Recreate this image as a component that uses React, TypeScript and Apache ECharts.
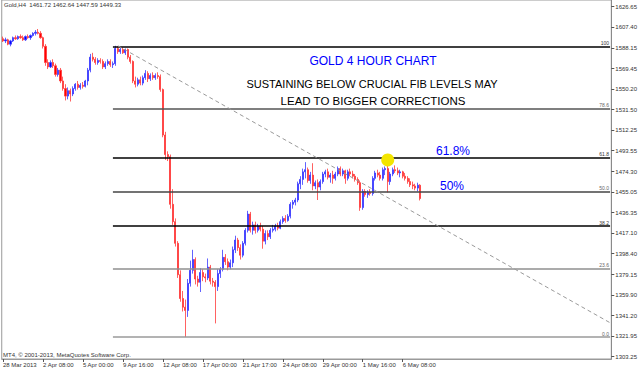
import React, { useEffect, useRef } from 'react';
import * as echarts from 'echarts';

// ---- candle data (Gold H4) ----
const opens = [
  1597,1595,1596,1592,1595,1598,1597,1599,1598,1596,
  1599,1598,1600,1602,1603,1602,1598,1590,1575,1571,
  1575,1572,1564,1568,1558,1551,1544,1549,1546,1551,
  1555,1552,1554,1553,1558,1568,1580,1578,1575,1577,
  1576,1571,1574,1576,1573,1574,1588,1585,1587,1584,
  1587,1580,1576,1558,1555,1559,1556,1561,1565,1560,
  1563,1561,1563,1562,1550,1508,1490,1488,1444,1428,
  1408,1379,1357,1349,1346,1371,1383,1393,1375,1372,
  1381,1377,1376,1386,1373,1372,1368,1380,1384,1395,
  1391,1386,1390,1402,1411,1404,1397,1408,1420,1435,
  1420,1425,1420,1424,1421,1410,1417,1414,1420,1421,
  1424,1422,1428,1431,1429,1433,1444,1446,1448,1463,
  1467,1474,1476,1466,1471,1461,1464,1460,1465,1472,
  1474,1469,1471,1468,1472,1477,1472,1475,1468,1474,
  1472,1470,1467,1464,1441,1456,1453,1455,1454,1468,
  1473,1471,1468,1476,1477,1465,1472,1476,1475,1473,
  1474,1470,1468,1465,1462,1461,1459,1461.72
];
const highs = [
  1599,1598,1597,1596,1599,1600,1600,1601,1600,1600,
  1601,1601,1603,1605,1606,1604,1599,1592,1578,1577,
  1578,1574,1570,1570,1562,1555,1552,1551,1553,1556,
  1558,1556,1557,1559,1570,1583,1584,1580,1579,1579,
  1578,1576,1578,1578,1576,1590.5,1590,1589,1589,1588,
  1588,1582,1577,1562,1561,1562,1563,1568,1567,1565,
  1566,1565,1566,1564,1551,1511,1493,1490,1458,1431,
  1410,1383,1364,1356,1375,1392,1402,1395,1378,1385,
  1384,1380,1394,1388,1376,1374,1384,1386,1402,1398,
  1394,1393,1405,1415,1413,1407,1410,1422,1438,1437,
  1428,1428,1426,1427,1424,1420,1420,1422,1425,1426,
  1427,1430,1433,1434,1435,1446,1448,1450,1465,1470,
  1477,1483,1478,1474,1482,1466,1467,1467,1474,1476,
  1477,1473,1475,1474,1479,1479,1477,1476,1476,1477,
  1475,1472,1469,1466,1458,1458,1457,1458,1470,1475,
  1476,1474,1478,1479,1485,1474,1478,1480,1478,1476,
  1475,1473,1470,1468,1465,1463,1464,1462.64
];
const lows = [
  1594,1593,1591,1590,1594,1596,1596,1597,1595,1595,
  1597,1596,1599,1600,1601,1597,1588,1572,1569,1570,
  1570,1562,1562,1556,1549,1540,1541,1539,1544,1549,
  1550,1550,1551,1552,1554,1566,1576,1573,1573,1574,
  1569,1569,1572,1571,1570,1572,1583,1583,1583,1582,
  1578,1574,1556,1552,1553,1554,1554,1559,1557,1558,
  1559,1559,1560,1548,1506,1485,1484,1440,1425,1405,
  1376,1354,1345,1321.35,1340,1368,1380,1370,1368,1363,
  1373,1372,1374,1370,1368,1334,1364,1376,1382,1388,
  1383,1384,1386,1399,1401,1393,1395,1406,1418,1418,
  1416,1417,1418,1419,1403,1407,1411,1412,1418,1419,
  1420,1421,1426,1427,1428,1431,1440,1443,1446,1458,
  1462,1468,1464,1463,1457,1458,1448,1457,1463,1469,
  1467,1464,1463,1466,1470,1470,1470,1463,1466,1470,
  1468,1465,1462,1438,1439,1451,1450,1452,1452,1466,
  1469,1466,1466,1471,1455,1462,1470,1473,1471,1469,
  1468,1466,1463,1460,1458,1457,1456,1447.59
];
const closes = [
  1595,1596,1592,1595,1598,1597,1599,1598,1596,1599,
  1598,1600,1602,1603,1602,1598,1590,1575,1571,1575,
  1572,1564,1568,1558,1551,1544,1549,1546,1551,1555,
  1552,1554,1553,1558,1568,1580,1578,1575,1577,1576,
  1571,1574,1576,1573,1574,1588,1585,1587,1584,1587,
  1580,1576,1558,1555,1559,1556,1561,1565,1560,1563,
  1561,1563,1562,1550,1508,1490,1488,1444,1428,1408,
  1379,1357,1349,1346,1371,1383,1393,1375,1372,1381,
  1377,1376,1386,1373,1372,1368,1380,1384,1395,1391,
  1386,1390,1402,1411,1404,1397,1408,1420,1435,1420,
  1425,1420,1424,1421,1410,1417,1414,1420,1421,1424,
  1422,1428,1431,1429,1433,1444,1446,1448,1463,1467,
  1474,1476,1466,1471,1461,1464,1460,1465,1472,1474,
  1469,1471,1468,1472,1477,1472,1475,1468,1474,1472,
  1470,1467,1464,1441,1456,1453,1455,1454,1468,1473,
  1471,1468,1476,1477,1465,1472,1476,1475,1473,1474,
  1470,1468,1465,1462,1461,1459,1461.72,1449.33
];

// ---- axes ----
const totalSlots = 244; // bars plus empty chart shift on the right
const xTickIndex = [0, 16, 32, 48, 64, 80, 96, 112, 128, 144, 160];
const xTickLabels = [
  '28 Mar 2013', '2 Apr 08:00', '5 Apr 00:00', '9 Apr 16:00', '12 Apr 08:00',
  '17 Apr 00:00', '21 Apr 17:00', '24 Apr 08:00', '29 Apr 00:00', '1 May 16:00', '6 May 08:00'
];
const yTicks = [
  1303.25, 1321.95, 1341.20, 1359.90, 1379.15, 1398.40, 1417.10, 1436.35, 1455.05,
  1474.30, 1493.55, 1512.25, 1531.50, 1550.20, 1569.45, 1588.15, 1607.40, 1626.65
];
const yMin = 1301.1;
const yMax = 1632.8;

// ---- fibonacci retracement ----
const fibLow = 1321.35;
const fibHigh = 1590;
const fibRatios = [0, 23.6, 38.2, 50, 61.8, 78.6, 100];
const fibLabels = ['0.0', '23.6', '38.2', '50.0', '61.8', '78.6', '100'];
const fibColors = ['#9a9a9a', '#8f8f8f', '#000000', '#444444', '#000000', '#555555', '#000000'];
const fibStartIdx = 44;

// ---- trend line / markers ----
const trendStartIdx = 46;
const trendStartPrice = 1590.5;
const trendEndIdx = 243;
const trendEndPrice = 1334.6;
const circleIdx = 154;
const circlePrice = 1485;

const FONT = '"Liberation Sans", Arial, sans-serif';

export default function App() {
  const ref = useRef<HTMLDivElement>(null);

  useEffect(() => {
    if (!ref.current) return;
    const chart = echarts.init(ref.current, undefined, { renderer: 'svg' });
    const categories = Array.from({ length: totalSlots }, (_, i) => 'b' + i);
    const tickSet = new Set(xTickIndex);
    const labelMap: Record<number, string> = {};
    xTickIndex.forEach((idx, k) => { labelMap[idx] = xTickLabels[k]; });

    const candleData = opens.map((o, i) => [o, closes[i], lows[i], highs[i]]);
    const last = opens.length - 1;

    const fibLines = fibRatios.map((r, k) => {
      const level = fibLow + (fibHigh - fibLow) * r / 100;
      return [
        {
          coord: [categories[fibStartIdx], level],
          lineStyle: { color: fibColors[k], width: 1.5, type: 'solid' },
          label: {
            show: true, position: 'insideEndTop', formatter: fibLabels[k],
            fontSize: 5, color: fibColors[k] === '#000000' ? '#333' : '#666',
            fontFamily: FONT, distance: 1
          }
        },
        { coord: [categories[totalSlots - 1], level] }
      ];
    });

    const trendLine = [
      {
        coord: [categories[trendStartIdx], trendStartPrice],
        lineStyle: { color: '#9a9a9a', width: 1, type: [4, 3] },
        label: { show: false }
      },
      { coord: [categories[trendEndIdx], trendEndPrice] }
    ];

    const option: any = {
      animation: false,
      backgroundColor: '#ffffff',
      grid: { left: 1, right: 28, top: 0, bottom: 13, show: true, borderColor: '#9a9a9a', borderWidth: 1 },
      xAxis: {
        type: 'category',
        data: categories,
        boundaryGap: true,
        axisLine: { show: true, lineStyle: { color: '#9a9a9a' } },
        axisTick: {
          show: true, alignWithLabel: true, length: 3,
          interval: (i: number) => tickSet.has(i),
          lineStyle: { color: '#555' }
        },
        axisLabel: {
          interval: (i: number) => tickSet.has(i),
          formatter: (_v: string, i: number) => labelMap[i] || '',
          align: 'left', margin: 3, fontSize: 6, color: '#333', fontFamily: FONT
        },
        splitLine: { show: false }
      },
      yAxis: {
        type: 'value',
        position: 'right',
        min: yMin,
        max: yMax,
        axisLine: { show: true, lineStyle: { color: '#8a8a8a' } },
        axisTick: { show: true, customValues: yTicks, length: 3, lineStyle: { color: '#555' } },
        axisLabel: {
          customValues: yTicks,
          formatter: (v: number) => v.toFixed(2),
          fontSize: 6, color: '#333', margin: 4, fontFamily: FONT
        },
        splitLine: { show: false }
      },
      series: [
        {
          type: 'candlestick',
          data: candleData,
          barWidth: 1.6,
          itemStyle: {
            color: '#0000ff', color0: '#ff0000',
            borderColor: '#3a3aff', borderColor0: '#ff3a3a', borderWidth: 0.8
          },
          markLine: {
            silent: true,
            symbol: ['none', 'none'],
            animation: false,
            data: [
              ...fibLines,
              trendLine,
              {
                yAxis: closes[last],
                lineStyle: { opacity: 0 },
                label: {
                  show: true, position: 'end', distance: 0,
                  formatter: closes[last].toFixed(2),
                  backgroundColor: '#000', color: '#fff', padding: [2, 3, 1, 3],
                  fontSize: 6, fontFamily: FONT
                }
              }
            ]
          },
          markPoint: {
            silent: true,
            animation: false,
            symbol: 'circle',
            symbolSize: 13,
            itemStyle: { color: '#f3e500' },
            label: { show: false },
            data: [{ coord: [categories[circleIdx], circlePrice] }]
          }
        }
      ],
      graphic: [
        {
          type: 'text', x: 4, y: 2,
          style: {
            text: `Gold,H4  ${opens[last].toFixed(2)} ${highs[last].toFixed(2)} ${lows[last].toFixed(2)} ${closes[last].toFixed(2)}`,
            fill: '#333', fontSize: 6, fontFamily: FONT, verticalAlign: 'top'
          }
        },
        {
          type: 'text', x: 3, y: 352,
          style: {
            text: 'MT4, © 2001-2013, MetaQuotes Software Corp.',
            fill: '#333', fontSize: 6, fontFamily: FONT, verticalAlign: 'top'
          }
        },
        {
          type: 'text', x: 373, y: 61,
          style: {
            text: 'GOLD 4 HOUR CHART', fill: '#0000ff', fontSize: 12, fontFamily: FONT,
            align: 'center', verticalAlign: 'middle'
          }
        },
        {
          type: 'text', x: 372, y: 84,
          style: {
            text: 'SUSTAINING BELOW CRUCIAL FIB LEVELS MAY', fill: '#000', fontSize: 11, fontFamily: FONT,
            align: 'center', verticalAlign: 'middle'
          }
        },
        {
          type: 'text', x: 373, y: 101,
          style: {
            text: 'LEAD TO BIGGER CORRECTIONS', fill: '#000', fontSize: 11.5, fontFamily: FONT,
            align: 'center', verticalAlign: 'middle'
          }
        },
        {
          type: 'text', x: 453, y: 151,
          style: {
            text: '61.8%', fill: '#0000ff', fontSize: 12, fontFamily: FONT,
            align: 'center', verticalAlign: 'middle'
          }
        },
        {
          type: 'text', x: 452, y: 186,
          style: {
            text: '50%', fill: '#0000ff', fontSize: 12, fontFamily: FONT,
            align: 'center', verticalAlign: 'middle'
          }
        }
      ]
    };

    chart.setOption(option);
    return () => chart.dispose();
  }, []);

  return (
    <div
      ref={ref}
      style={{ position: 'absolute', left: 0, top: 0, width: 640, height: 372, background: '#fff' }}
    />
  );
}
